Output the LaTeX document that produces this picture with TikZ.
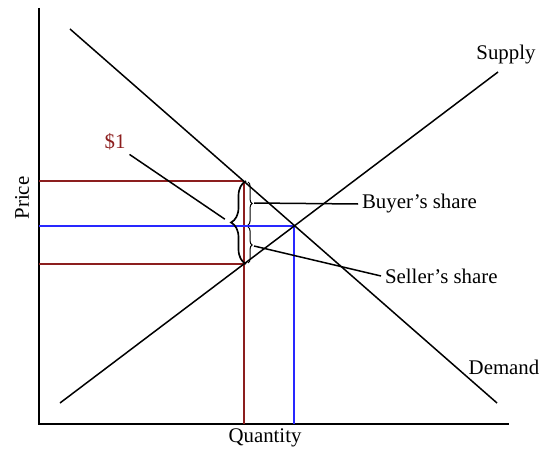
\documentclass[tikz,border=0pt]{standalone}
\usepackage{fontspec}
\setmainfont{Liberation Serif}
\usetikzlibrary{decorations.pathreplacing}
\definecolor{taxred}{RGB}{140,30,30}
\definecolor{eqblue}{RGB}{40,40,255}

\begin{document}
\begin{tikzpicture}[x=0.6pt,y=-0.6pt,line width=0.9pt,
  lbl/.style={font=\fontsize{12.5}{15}\selectfont,inner sep=2pt},
  bigbrace/.style={decorate,decoration={brace,amplitude=9pt},line width=1pt},
  smallbrace/.style={decorate,decoration={brace,amplitude=2.5pt},line width=0.6pt}]
\useasboundingbox (0,0) rectangle (549,451);
% ---------- 坐标轴 ----------
\draw (39,8) -- (39,424) -- (509,424);
\node[lbl,rotate=90] (price) at (22,198) {Price};
\node[lbl] (qty) at (265,438) {Quantity};
% ---------- 税后价格 / 均衡 ----------
\draw[taxred] (39,181) -- (244,181);
\draw[taxred] (39,264) -- (244,264);
\draw[taxred] (244,181) -- (244,424);
\draw[eqblue] (39,226) -- (294,226) -- (294,424);
% ---------- 供给与需求 ----------
\coordinate (s1) at (60,403);
\coordinate (s2) at (498,72);
\coordinate (d1) at (70,29);
\coordinate (d2) at (497,403);
\draw (s1) -- (s2);
\draw (d1) -- (d2);
\node[lbl] (supply) at (506,55) {Supply};
\node[lbl] (demand) at (504,367) {Demand};
% ---------- 大括号：\$1 ----------
\draw[bigbrace] (246,264) -- (246,181);
\coordinate (bigtip) at (229,222);
\node[lbl,text=taxred] (dollar) at (115,142) {\$1};
\draw[shorten >=3pt] (dollar.south east) -- (bigtip);
% ---------- 小括号：买方 / 卖方负担 ----------
\draw[smallbrace] (248,182) -- (248,225);
\draw[smallbrace] (248,227) -- (248,263);
\coordinate (buytip) at (254,203);
\coordinate (selltip) at (254,246);
\node[lbl,anchor=west] (buyer) at (358,204) {Buyer’s share};
\node[lbl,anchor=west] (seller) at (381,276) {Seller’s share};
\draw (buytip) -- (buyer.west);
\draw (selltip) -- (seller.west);
\end{tikzpicture}
\end{document}
